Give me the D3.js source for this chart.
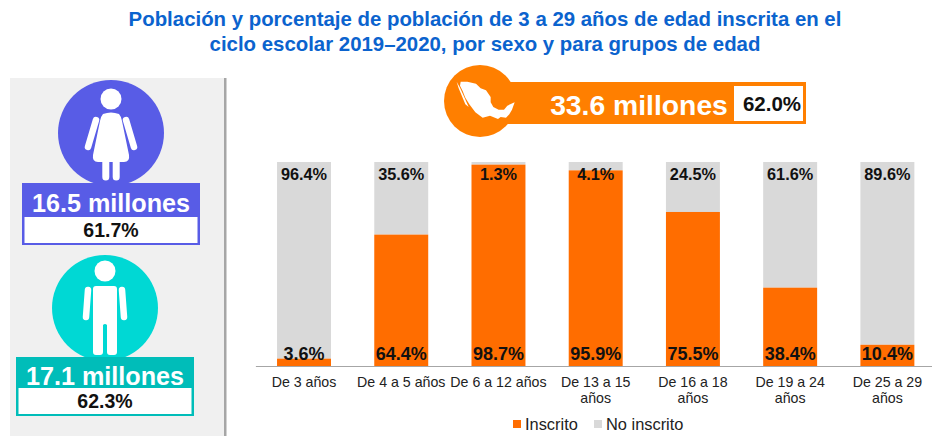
<!DOCTYPE html>
<html><head><meta charset="utf-8">
<script src="https://cdn.jsdelivr.net/npm/d3@7"></script>
<style>
html,body{margin:0;padding:0;background:#fff;overflow:hidden}
svg{display:block}
text{font-family:"Liberation Sans",Arial,sans-serif}
</style></head><body>
<svg id="c" width="932" height="436"></svg>
<script>
const titleLines = ["Población y porcentaje de población de 3 a 29 años de edad inscrita en el","ciclo escolar 2019–2020, por sexo y para grupos de edad"];
const categories = ["De 3 años","De 4 a 5 años","De 6 a 12 años","De 13 a 15 años","De 16 a 18 años","De 19 a 24 años","De 25 a 29 años"];
const inscrito = [3.6,64.4,98.7,95.9,75.5,38.4,10.4];
const noInscrito = [96.4,35.6,1.3,4.1,24.5,61.6,89.6];
const seriesNames = ["Inscrito","No inscrito"];
const seriesColors = ["#ff6d00","#d9d9d9"];

const svg = d3.select("#c");
const x = d3.scaleBand().domain(categories).range([255.4,936]).paddingInner(.445).paddingOuter(.2225);
const y = d3.scaleLinear().domain([0,100]).range([366,162]);

// Title
svg.append("g").selectAll("text").data(titleLines).join("text")
  .attr("x",485).attr("y",(d,i)=>26+i*25).attr("text-anchor","middle")
  .attr("font-size",20.4).attr("font-weight",700).attr("fill","#0b63ce").text(d=>d);

// Left panel
svg.append("rect").attr("x",10).attr("y",78).attr("width",214).attr("height",358).attr("fill","#f0f0f0");
svg.append("rect").attr("x",224).attr("y",78).attr("width",2.5).attr("height",358).attr("fill","#a6a6a6");

function badge(cx,cy,col,bx,by,bw,bh,bcol,wy,wh,label,pct,ly,py,icon){
  const g=svg.append("g");
  g.append("circle").attr("cx",cx).attr("cy",cy).attr("r",53).attr("fill",col);
  const p=g.append("g").attr("transform",`translate(${cx},${cy})`).attr("fill","#fff");
  icon(p);
  g.append("rect").attr("x",bx).attr("y",by).attr("width",bw).attr("height",bh).attr("fill",bcol);
  g.append("rect").attr("x",bx+2.5).attr("y",wy).attr("width",bw-5).attr("height",wh).attr("fill","#fff");
  g.append("text").attr("x",bx+bw/2).attr("y",ly).attr("text-anchor","middle").attr("font-size",25.2).attr("font-weight",700).attr("fill","#fff").text(label);
  g.append("text").attr("x",bx+bw/2).attr("y",py).attr("text-anchor","middle").attr("font-size",19.5).attr("font-weight",700).attr("fill","#111").text(pct);
}
function woman(p){
  p.append("circle").attr("cy",-34).attr("r",10.5);
  p.append("path").attr("d","M-8,-19 Q0,-22 8,-19 Q10,-17 11,-12 L18,22 Q19,29 13,29 L-13,29 Q-19,29 -18,22 L-11,-12 Q-10,-17 -8,-19Z");
  [[-15,-13,-23,14],[15,-13,23,14]].forEach(a=>p.append("line").attr("x1",a[0]).attr("y1",a[1]).attr("x2",a[2]).attr("y2",a[3]).attr("stroke","#fff").attr("stroke-width",6.5).attr("stroke-linecap","round"));
  [-5.2,5.2].forEach(v=>p.append("line").attr("x1",v).attr("y1",26).attr("x2",v).attr("y2",44).attr("stroke","#fff").attr("stroke-width",7).attr("stroke-linecap","round"));
}
function man(p){
  p.append("circle").attr("cy",-37).attr("r",10.5);
  p.append("path").attr("d","M-9,-22 L9,-22 Q12,-22 12,-19 L12,44 Q12,47 9,47 L5,47 Q2,47 2,44 L2,17 Q0,15 -2,17 L-2,44 Q-2,47 -5,47 L-9,47 Q-12,47 -12,44 L-12,-19 Q-12,-22 -9,-22Z");
  [[-17,-18,-19,9],[17,-18,19,9]].forEach(a=>p.append("line").attr("x1",a[0]).attr("y1",a[1]).attr("x2",a[2]).attr("y2",a[3]).attr("stroke","#fff").attr("stroke-width",6.5).attr("stroke-linecap","round"));
}
badge(111,133,"#585ce6",22,183,178,62,"#585ce6",217,26,"16.5 millones","61.7%",212,237,woman);
badge(105,308,"#00d8d4",16,357,178,59,"#00bdb9",388,26,"17.1 millones","62.3%",385,408,man);

// Total banner
const ban=svg.append("g");
ban.append("circle").attr("cx",480).attr("cy",101).attr("r",36).attr("fill","#ff7f00");
ban.append("rect").attr("x",480).attr("y",82).attr("width",326).attr("height",42).attr("fill","#ff7f00");
ban.append("rect").attr("x",734).attr("y",86).attr("width",69).attr("height",35).attr("fill","#fff");
ban.append("path").attr("transform","translate(430,65) scale(.3333)").attr("fill","#fff")
  .attr("d","M92,50 L112,50 L138,56 L152,70 L168,76 L182,96 L182,112 L190,126 L206,134 L222,134 L232,122 L254,112 L246,134 L238,148 L228,158 L212,156 L204,162 L180,152 L158,158 L136,142 L118,118 L106,98 L98,78 L90,62Z M80,50 L86,70 L106,118 L116,126 L100,90 L90,68 Z");
ban.append("text").attr("x",639).attr("y",115).attr("text-anchor","middle").attr("font-size",28.3).attr("font-weight",700).attr("fill","#fff").text("33.6 millones");
ban.append("text").attr("x",772).attr("y",111).attr("text-anchor","middle").attr("font-size",20.5).attr("font-weight",700).attr("fill","#111").text("62.0%");

// Stacked bars
const rows=categories.map((c,i)=>({c,ins:inscrito[i],no:noInscrito[i]}));
const bars=svg.append("g");
bars.selectAll("rect.no").data(rows).join("rect").attr("class","no").attr("x",d=>x(d.c)).attr("width",x.bandwidth())
  .attr("y",d=>y(d.ins+d.no)).attr("height",d=>y(d.ins)-y(d.ins+d.no)).attr("fill",seriesColors[1]);
bars.selectAll("rect.ins").data(rows).join("rect").attr("class","ins").attr("x",d=>x(d.c)).attr("width",x.bandwidth())
  .attr("y",d=>y(d.ins)).attr("height",d=>y(0)-y(d.ins)).attr("fill",seriesColors[0]);

// Value labels
const lab=svg.append("g").attr("text-anchor","middle").attr("font-weight",700).attr("fill","#111");
lab.selectAll("text.t").data(rows).join("text").attr("class","t").attr("font-size",16.3).attr("x",d=>x(d.c)+x.bandwidth()/2).attr("y",180).text(d=>d.no.toFixed(1)+"%");
lab.selectAll("text.b").data(rows).join("text").attr("class","b").attr("font-size",18).attr("x",d=>x(d.c)+x.bandwidth()/2).attr("y",360).text(d=>d.ins.toFixed(1)+"%");

// Axis
const ax=svg.append("g").attr("transform","translate(0,366)").call(d3.axisBottom(x).tickSize(0).tickPadding(0));
ax.select(".domain").attr("stroke","#a6a6a6").attr("stroke-width",1.2);
ax.selectAll(".tick text").attr("font-size",14.2).attr("fill","#222").each(function(d){
  const t=d3.select(this); t.text(null).attr("y",0);
  const lines=(d.length>14)?[d.slice(0,-5),"años"]:[d];
  lines.forEach((l,i)=>t.append("tspan").attr("x",0).attr("y",21+i*16).attr("dy",0).text(l));
});

// Legend
const lg=svg.append("g").attr("font-size",16.4).attr("fill","#222");
[[513,525],[594,606]].forEach((p,i)=>{
  lg.append("rect").attr("x",p[0]).attr("y",420).attr("width",8).attr("height",8).attr("fill",seriesColors[i]);
  lg.append("text").attr("x",p[1]).attr("y",430).text(seriesNames[i]);
});
</script></body></html>
